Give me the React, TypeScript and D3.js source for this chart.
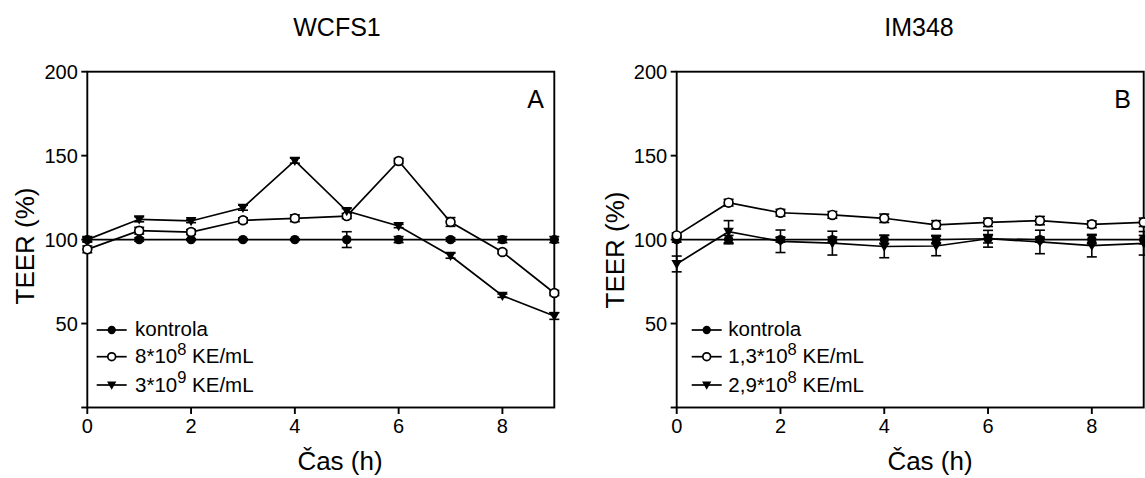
import React from "react";
import * as d3 from "d3";

const hours = [0, 1, 2, 3, 4, 5, 6, 7, 8, 9];
const xTicks = [0, 2, 4, 6, 8];
const yTicks = [0, 50, 100, 150, 200];
const yTickLabels = ["", "50", "100", "150", "200"];

// Panel A – WCFS1
const wcfsKontrola = [100, 100, 100, 100, 100, 100, 100, 100, 100, 100];
const wcfsKontrolaErr = [1.5, 1, 0.5, 0.5, 0.5, 4.7, 1.8, 1, 1.8, 1.8];
const wcfsLow = [94.2, 105.3, 104.5, 111.5, 112.7, 114, 146.8, 110.5, 92.6, 68.2];
const wcfsLowErr = [2, 2, 1.5, 1.5, 2, 1.5, 1.5, 2.6, 1, 1.5];
const wcfsHigh = [100, 112.1, 111.1, 119, 147, 117, 108.1, 90.4, 66.6, 54.5];
const wcfsHighErr = [1, 1.5, 1, 1.5, 1.5, 1.5, 1, 1.5, 1, 2];

// Panel B – IM348
const imKontrola = [100, 100, 100, 100, 100, 100, 100.5, 100, 100, 100];
const imKontrolaErr = [1.5, 2.5, 1.5, 1.5, 2.5, 2.5, 2.5, 1.5, 2.5, 2.5];
const imLow = [102.5, 122, 116, 114.7, 112.7, 108.8, 110.3, 111.3, 109.1, 110.3];
const imLowErr = [1.5, 2, 2, 2, 2.5, 2.5, 2.5, 2.5, 2, 2.5];
const imHigh = [85.5, 104.7, 99, 97.9, 95.9, 96.2, 100.5, 98.6, 96.4, 97.8];
const imHighErr = [4.7, 6.6, 6.7, 7.1, 6.7, 5.8, 5, 7, 6.7, 7];

const FONT = "'Liberation Sans', Arial, Helvetica, sans-serif";

type Series = { values: number[]; errs: number[]; marker: "filled" | "open" | "tri" };

type Legend = { base: string; sup?: string; rest?: string; marker: "filled" | "open" | "tri" };

type PanelCfg = {
  title: string;
  titleX: number;
  letter: string;
  letterX: number;
  xLabelX: number;
  yLabelX: number;
  yLabelY: number;
  left: number;
  right: number;
  legendLineX: number;
  legendTextX: number;
  series: Series[];
  legend: Legend[];
};

const TOP = 71.7;
const BOTTOM = 407.5;

function Marker({ type, x, y, s = 1 }: { type: string; x: number; y: number; s?: number }) {
  if (type === "filled") return <circle cx={x} cy={y} r={4.7 * s} fill="#000" />;
  if (type === "open")
    return <circle cx={x} cy={y} r={4.4 * s} fill="#fff" stroke="#000" strokeWidth={1.7} />;
  const w = 5.3 * s;
  const path = d3.path();
  path.moveTo(x - w, y - w * 0.75);
  path.lineTo(x + w, y - w * 0.75);
  path.lineTo(x, y + w * 1.0);
  path.closePath();
  return <path d={path.toString()} fill="#000" />;
}

function Panel({ cfg }: { cfg: PanelCfg }) {
  const x = d3.scaleLinear().domain([0, 9]).range([cfg.left, cfg.right]);
  const y = d3.scaleLinear().domain([0, 200]).range([BOTTOM, TOP]);
  const line = d3
    .line<number>()
    .x((_, i) => x(hours[i]))
    .y((v) => y(v));
  const legendRows = [330, 356.7, 385];
  const legendBase = [335.7, 363.3, 391.7];
  return (
    <g>
      <text x={cfg.titleX} y={36} textAnchor="middle" fontSize={25} fontFamily={FONT}>
        {cfg.title}
      </text>
      {/* frame */}
      <rect
        x={cfg.left}
        y={TOP}
        width={cfg.right - cfg.left}
        height={BOTTOM - TOP}
        fill="none"
        stroke="#000"
        strokeWidth={1.9}
      />
      {/* y ticks */}
      {yTicks.map((t, i) => (
        <g key={"y" + t}>
          <line x1={cfg.left - 6} x2={cfg.left} y1={y(t)} y2={y(t)} stroke="#000" strokeWidth={1.9} />
          <text
            x={cfg.left - 9.5}
            y={y(t)}
            dy="0.36em"
            textAnchor="end"
            fontSize={20}
            fontFamily={FONT}
          >
            {yTickLabels[i]}
          </text>
        </g>
      ))}
      {/* x ticks */}
      {xTicks.map((t) => (
        <g key={"x" + t}>
          <line x1={x(t)} x2={x(t)} y1={BOTTOM} y2={BOTTOM + 6.5} stroke="#000" strokeWidth={1.9} />
          <text x={x(t)} y={433} textAnchor="middle" fontSize={20} fontFamily={FONT}>
            {t}
          </text>
        </g>
      ))}
      <text x={cfg.xLabelX} y={470} textAnchor="middle" fontSize={26} fontFamily={FONT}>
        Čas (h)
      </text>
      <text
        transform={`translate(${cfg.yLabelX},${cfg.yLabelY}) rotate(-90)`}
        textAnchor="middle"
        fontSize={26}
        fontFamily={FONT}
      >
        TEER (%)
      </text>
      <text x={cfg.letterX} y={108} textAnchor="end" fontSize={25} fontFamily={FONT}>
        {cfg.letter}
      </text>
      {/* lines */}
      {cfg.series.map((s, k) => (
        <path key={"l" + k} d={line(s.values) || ""} fill="none" stroke="#000" strokeWidth={1.7} />
      ))}
      {/* error bars */}
      {cfg.series.map((s, k) =>
        s.values.map((v, i) => {
          const e = s.errs[i];
          const cx = x(hours[i]);
          return (
            <g key={"e" + k + "-" + i} stroke="#000" strokeWidth={1.6}>
              <line x1={cx} x2={cx} y1={y(v + e)} y2={y(v - e)} />
              <line x1={cx - 5} x2={cx + 5} y1={y(v + e)} y2={y(v + e)} />
              <line x1={cx - 5} x2={cx + 5} y1={y(v - e)} y2={y(v - e)} />
            </g>
          );
        })
      )}
      {/* markers */}
      {cfg.series.map((s, k) =>
        s.values.map((v, i) => (
          <Marker key={"m" + k + "-" + i} type={s.marker} x={x(hours[i])} y={y(v)} />
        ))
      )}
      {/* legend */}
      {cfg.legend.map((l, i) => (
        <g key={"lg" + i}>
          <line
            x1={cfg.legendLineX}
            x2={cfg.legendLineX + 30}
            y1={legendRows[i]}
            y2={legendRows[i]}
            stroke="#000"
            strokeWidth={1.7}
          />
          <Marker type={l.marker} x={cfg.legendLineX + 15} y={legendRows[i]} s={0.88} />
          <text x={cfg.legendTextX} y={legendBase[i]} fontSize={20.5} fontFamily={FONT}>
            {l.base}
            {l.sup ? (
              <tspan dy={-8.5} fontSize={16.5}>
                {l.sup}
              </tspan>
            ) : null}
            {l.rest ? <tspan dy={l.sup ? 8.5 : 0}>{l.rest}</tspan> : null}
          </text>
        </g>
      ))}
    </g>
  );
}

const panelA: PanelCfg = {
  title: "WCFS1",
  titleX: 337,
  letter: "A",
  letterX: 544,
  xLabelX: 340,
  yLabelX: 33.5,
  yLabelY: 246,
  left: 87.3,
  right: 554.3,
  legendLineX: 96.7,
  legendTextX: 135,
  series: [
    { values: wcfsKontrola, errs: wcfsKontrolaErr, marker: "filled" },
    { values: wcfsLow, errs: wcfsLowErr, marker: "open" },
    { values: wcfsHigh, errs: wcfsHighErr, marker: "tri" },
  ],
  legend: [
    { base: "kontrola", marker: "filled" },
    { base: "8*10", sup: "8", rest: " KE/mL", marker: "open" },
    { base: "3*10", sup: "9", rest: " KE/mL", marker: "tri" },
  ],
};

const panelB: PanelCfg = {
  title: "IM348",
  titleX: 919,
  letter: "B",
  letterX: 1131,
  xLabelX: 930,
  yLabelX: 623.5,
  yLabelY: 250,
  left: 676.7,
  right: 1143.7,
  legendLineX: 691.7,
  legendTextX: 728.3,
  series: [
    { values: imKontrola, errs: imKontrolaErr, marker: "filled" },
    { values: imLow, errs: imLowErr, marker: "open" },
    { values: imHigh, errs: imHighErr, marker: "tri" },
  ],
  legend: [
    { base: "kontrola", marker: "filled" },
    { base: "1,3*10", sup: "8", rest: " KE/mL", marker: "open" },
    { base: "2,9*10", sup: "8", rest: " KE/mL", marker: "tri" },
  ],
};

export default function App() {
  return (
    <svg
      width={1145}
      height={478}
      style={{ position: "absolute", left: 0, top: 0, background: "#fff" }}
    >
      <rect x={0} y={0} width={1145} height={478} fill="#fff" />
      <Panel cfg={panelA} />
      <Panel cfg={panelB} />
    </svg>
  );
}
